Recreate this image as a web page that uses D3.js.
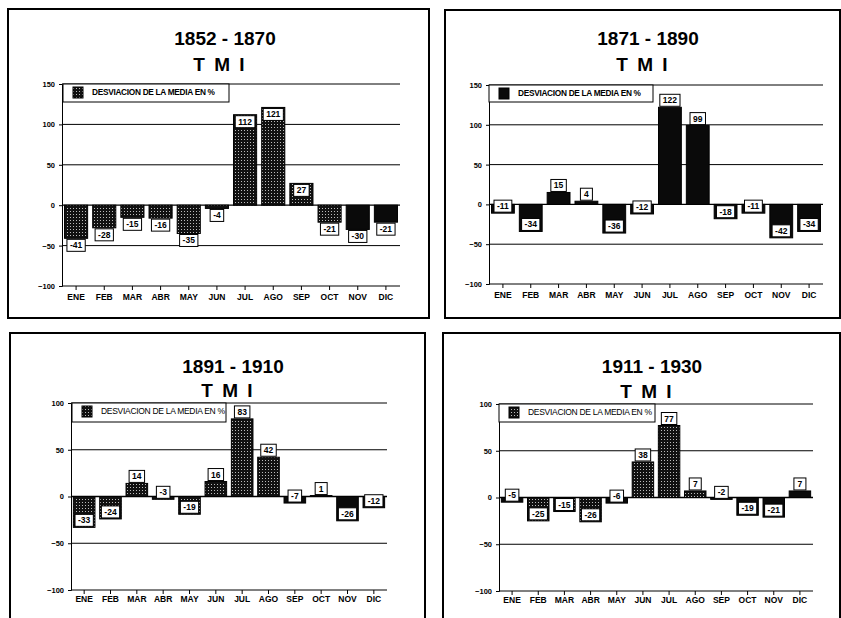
<!DOCTYPE html>
<html>
<head>
<meta charset="utf-8">
<script src="https://cdn.jsdelivr.net/npm/d3@7"></script>
<style>
  body { margin: 0; background: #fff; }
  svg { display: block; font-family: "Liberation Sans", Arial, sans-serif; }
  .axis path, .axis line { stroke: #000; }
  .axis text { font-weight: bold; fill: #000; }
</style>
</head>
<body>
<div id="chart"></div>
<script>
/* DATA */
const months = ["ENE", "FEB", "MAR", "ABR", "MAY", "JUN", "JUL", "AGO", "SEP", "OCT", "NOV", "DIC"];
const vals1852 = [-41, -28, -15, -16, -35, -4, 112, 121, 27, -21, -30, -21];
const vals1871 = [-11, -34, 15, 4, -36, -12, 122, 99, -18, -11, -42, -34];
const vals1891 = [-33, -24, 14, -3, -19, 16, 83, 42, -7, 1, -26, -12];
const vals1911 = [-5, -25, -15, -26, -6, 38, 77, 7, -2, -19, -21, 7];
const ticks150 = [-100, -50, 0, 50, 100, 150];
const ticks100 = [-100, -50, 0, 50, 100];
const periods = ["1852 - 1870", "1871 - 1890", "1891 - 1910", "1911 - 1930"];
const subtitle = "T M I";
const legendLabel = "DESVIACION DE LA MEDIA EN %";

const width = 841;
const height = 618;

const svg = d3.select("#chart")
  .append("svg")
  .attr("width", width)
  .attr("height", height);

// stipple fill used on most of the bars
const defs = svg.append("defs");
const pat = defs.append("pattern")
  .attr("id", "dots")
  .attr("width", 3)
  .attr("height", 3)
  .attr("patternUnits", "userSpaceOnUse");
pat.append("rect").attr("width", 3).attr("height", 3).attr("fill", "#111");
pat.append("rect").attr("x", 1).attr("y", 1).attr("width", 1).attr("height", 1).attr("fill", "#bbb");

// one config per panel (layout only, values come from the arrays above)
const panels = [
  { title: periods[0], values: vals1852, ticks: ticks150,
    frame: [8, 9, 421, 309], plot: [62, 400, 84, 286], titleX: 225, titleY: 45, subY: 71,
    labelY: 300, labelAt: "top", solid: ["NOV", "DIC"], legend: [63, 229, 84, 102], legendBold: true, allSolid: false },
  { title: periods[1], values: vals1871, ticks: ticks150,
    frame: [445, 10, 395, 308], plot: [489, 823, 85, 284], titleX: 648, titleY: 45, subY: 71,
    labelY: 298, labelAt: "bottom", solid: [], legend: [489, 653, 85, 102], legendBold: true, allSolid: true },
  { title: periods[2], values: vals1891, ticks: ticks100,
    frame: [10, 333, 415, 300], plot: [71, 387, 403, 590], titleX: 233, titleY: 373, subY: 397,
    labelY: 602, labelAt: "bottom", solid: ["SEP", "NOV", "DIC"], legend: [72, 226, 403, 422], legendBold: false, allSolid: false },
  { title: periods[3], values: vals1911, ticks: ticks100,
    frame: [443, 333, 397, 300], plot: [499, 813, 404, 591], titleX: 652, titleY: 373, subY: 398,
    labelY: 603, labelAt: "bottom", solid: ["ENE", "MAY", "SEP", "OCT", "NOV", "DIC"], legend: [499, 655, 404, 422], legendBold: false, allSolid: false }
];

panels.forEach(drawPanel);

function drawPanel(p) {
  const g = svg.append("g");
  const [x0, x1, yTop, yBot] = p.plot;
  const data = months.map((m, i) => ({ month: m, value: p.values[i] }));

  // frame
  g.append("rect")
    .attr("x", p.frame[0]).attr("y", p.frame[1])
    .attr("width", p.frame[2]).attr("height", p.frame[3])
    .attr("fill", "none").attr("stroke", "#000").attr("stroke-width", 2);

  // titles
  g.append("text")
    .attr("x", p.titleX).attr("y", p.titleY)
    .attr("text-anchor", "middle")
    .style("font-size", "19px").style("font-weight", "bold")
    .text(p.title);
  g.append("text")
    .attr("x", p.titleX - 5).attr("y", p.subY)
    .attr("text-anchor", "middle")
    .style("font-size", "19px").style("font-weight", "bold")
    .style("letter-spacing", "2px")
    .text(subtitle);

  /* SCALES */
  const xScale = d3.scaleBand()
    .domain(months)
    .range([x0, x1])
    .paddingInner(0.18)
    .paddingOuter(0.09);

  const yScale = d3.scaleLinear()
    .domain([d3.min(p.ticks), d3.max(p.ticks)])
    .range([yBot, yTop]);

  // horizontal grid lines
  g.selectAll(".grid")
    .data(p.ticks)
    .join("line")
    .attr("x1", x0).attr("x2", x1)
    .attr("y1", d => yScale(d)).attr("y2", d => yScale(d))
    .attr("stroke", "#000")
    .attr("stroke-width", d => d === 0 ? 1.3 : 1);

  /* AXES */
  g.append("g")
    .attr("class", "axis")
    .attr("transform", `translate(${x0},0)`)
    .call(d3.axisLeft(yScale).tickValues(p.ticks).tickSize(3).tickPadding(4).tickFormat(d3.format("d")))
    .call(a => a.selectAll("text").style("font-size", "7.5px"));

  g.append("g")
    .attr("class", "axis")
    .attr("transform", `translate(0,${yBot})`)
    .call(d3.axisBottom(xScale).tickSize(4).tickSizeOuter(0).tickPadding(3))
    .call(a => a.select(".domain").remove())
    .call(a => a.selectAll("text")
      .attr("y", null).attr("dy", null)
      .attr("transform", `translate(0,${p.labelY - yBot})`)
      .style("font-size", "8.5px"));

  // BARS
  g.selectAll(".bar")
    .data(data)
    .join("rect")
    .attr("x", d => xScale(d.month))
    .attr("width", xScale.bandwidth())
    .attr("y", d => yScale(Math.max(0, d.value)))
    .attr("height", d => Math.abs(yScale(d.value) - yScale(0)))
    .attr("fill", d => (p.allSolid || p.solid.includes(d.month)) ? "#0a0a0a" : "url(#dots)")
    .attr("stroke", "#000")
    .attr("stroke-width", 1);

  // VALUE LABELS (white boxes)
  const lab = g.selectAll(".val")
    .data(data)
    .join("g");

  lab.append("text")
    .attr("text-anchor", "middle")
    .style("font-size", "8.5px")
    .style("font-weight", "bold")
    .text(d => d.value);

  lab.each(function (d) {
    const grp = d3.select(this);
    const t = grp.select("text");
    const w = Math.max(12, t.node().getComputedTextLength() + 6);
    const h = 12;
    const cx = xScale(d.month) + xScale.bandwidth() / 2;
    const top = p.labelAt === "top" ? yScale(d.value) + 1 : yScale(d.value) - h - 1;
    grp.insert("rect", "text")
      .attr("x", cx - w / 2).attr("y", top)
      .attr("width", w).attr("height", h)
      .attr("fill", "#fff").attr("stroke", "#000").attr("stroke-width", 1);
    t.attr("x", cx).attr("y", top + 9);
  });

  // LEGEND
  const [lx0, lx1, ly0, ly1] = p.legend;
  g.append("rect")
    .attr("x", lx0).attr("y", ly0)
    .attr("width", lx1 - lx0).attr("height", ly1 - ly0)
    .attr("fill", "#fff").attr("stroke", "#000").attr("stroke-width", 1);
  g.append("rect")
    .attr("x", lx0 + 10).attr("y", ly0 + 3)
    .attr("width", 10).attr("height", 11)
    .attr("fill", p.allSolid ? "#0a0a0a" : "url(#dots)")
    .attr("stroke", "#000");
  g.append("text")
    .attr("x", lx0 + 29).attr("y", ly0 + 11)
    .style("font-size", p.legendBold ? "8.3px" : "8.5px")
    .style("font-weight", p.legendBold ? "bold" : "normal")
    .style("letter-spacing", "-0.3px")
    .text(legendLabel);
}
</script>
</body>
</html>
